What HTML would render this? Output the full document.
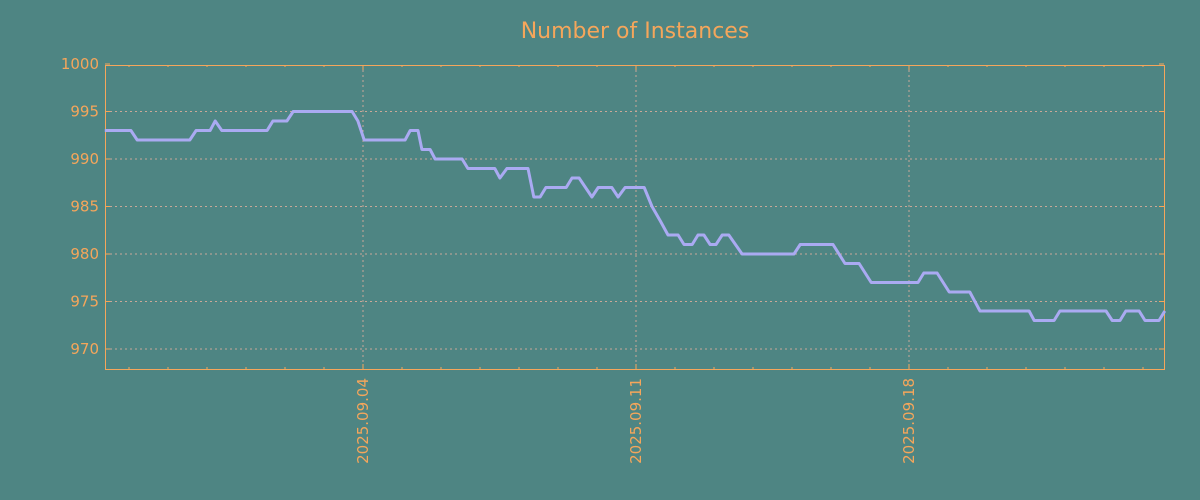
<!DOCTYPE html>
<html><head><meta charset="utf-8"><style>
body{margin:0;background:#4e8583;}
svg{display:block;font-family:"DejaVu Sans","Liberation Sans",sans-serif;}
</style></head><body>
<svg id="chart" width="1200" height="500" xmlns="http://www.w3.org/2000/svg">
<rect width="1200" height="500" fill="#4e8583"/>
<text x="635" y="38" text-anchor="middle" font-size="22" fill="#f5a65b">Number of Instances</text>
<g id="grid"></g>
<g id="axes"></g>
<g id="series"></g>
</svg>
<script>
// days relative to 2025.09.04
const dayOffsets=[-6.62,-5.95,-5.79,-4.44,-4.28,-3.92,-3.79,-3.62,-2.46,-2.31,-1.95,-1.79,-0.28,-0.13,0.03,1.08,1.21,1.41,1.51,1.72,1.85,2.54,2.69,3.38,3.51,3.69,4.23,4.38,4.54,4.69,5.21,5.36,5.54,5.87,6.03,6.38,6.54,6.72,7.21,7.41,7.62,7.82,8.08,8.23,8.44,8.59,8.74,8.90,9.05,9.21,9.38,9.72,11.05,11.21,12.05,12.36,12.72,13.03,14.23,14.38,14.72,15.03,15.56,15.82,17.08,17.21,17.72,17.87,19.05,19.21,19.41,19.56,19.90,20.05,20.41,20.56];
const instances=[993,993,992,992,993,993,994,993,993,994,994,995,995,994,992,992,993,993,991,991,990,990,989,989,988,989,989,986,986,987,987,988,988,986,987,987,986,987,987,985,983.5,982,982,981,981,982,982,981,981,982,982,980,980,981,981,979,979,977,977,978,978,976,976,974,974,973,973,974,974,973,973,974,974,973,973,974];
const yTicks=[970,975,980,985,990,995,1000];
const xTickDays=[0,7,14];
const xTickLabels=["2025.09.04","2025.09.11","2025.09.18"];
const minorDays=[-6,-5,-4,-3,-2,-1,1,2,3,4,5,6,8,9,10,11,12,13,15,16,17,18,19,20];

const L=105,R=1164,T=65,B=369;
const xScale=d=>363+d*39;
const yScale=v=>64+(1000-v)*9.5;
const NS="http://www.w3.org/2000/svg";
function mk(tag,attrs,parent){const e=document.createElementNS(NS,tag);for(const k in attrs)e.setAttribute(k,attrs[k]);parent.appendChild(e);return e;}
const grid=document.getElementById('grid'),axes=document.getElementById('axes'),series=document.getElementById('series');
const orange="#f5a65b",gridc="#c8a898";
yTicks.forEach(v=>{const y=yScale(v);
 if(v<1000){const g=mk('line',{x1:L,x2:R,y1:y,y2:y,stroke:gridc,'stroke-width':1,'stroke-dasharray':'2,3'},grid);
 
 }
 const t=mk('text',{x:L-6,y:y+5,'text-anchor':'end','font-size':15,fill:orange},axes);t.textContent=v;
 
 
 mk('line',{x1:L,x2:L+5,y1:y,y2:y,stroke:orange},axes);
 mk('line',{x1:R-5,x2:R,y1:y,y2:y,stroke:orange},axes);
});
xTickDays.forEach((d,i)=>{const x=xScale(d);
 const g=mk('line',{x1:x,x2:x,y1:T,y2:B,stroke:gridc,'stroke-width':1,'stroke-dasharray':'2,3'},grid);
 
 
 mk('line',{x1:x,x2:x,y1:B-5,y2:B,stroke:orange},axes);
 mk('line',{x1:x,x2:x,y1:T,y2:T+5,stroke:orange},axes);
 const t=mk('text',{x:0,y:0,'text-anchor':'end','font-size':15,fill:orange,transform:`translate(${x+5},${B+9}) rotate(-90)`},axes);t.textContent=xTickLabels[i];
 
 
});
minorDays.forEach(d=>{const x=xScale(d);
 mk('line',{x1:x,x2:x,y1:B-2,y2:B,stroke:orange},axes);
 mk('line',{x1:x,x2:x,y1:T,y2:T+2,stroke:orange},axes);
});
const frame=mk('rect',{x:L+0.5,y:T+0.5,width:R-L,height:B-T,fill:'none',stroke:orange,'stroke-width':1},axes);


const pts=dayOffsets.map((d,i)=>xScale(d).toFixed(1)+','+yScale(instances[i]).toFixed(1)).join(' ');
const line=mk('polyline',{points:pts,fill:'none',stroke:'#aaaaf2','stroke-width':3,'stroke-linejoin':'round'},series);


</script>
</body></html>
